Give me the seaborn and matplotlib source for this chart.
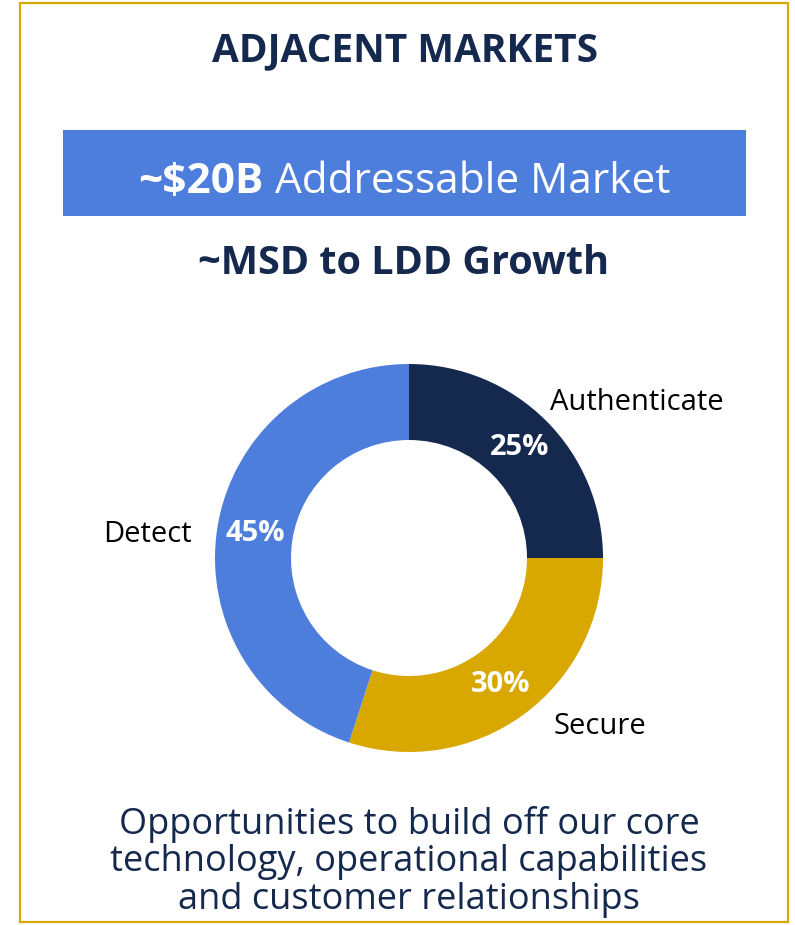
import matplotlib
matplotlib.use("Agg")
import matplotlib.pyplot as plt
import seaborn as sns
import numpy as np
from matplotlib.patches import Rectangle

# data
segments = ["Authenticate", "Secure", "Detect"]
shares = [25, 30, 45]
seg_colors = ["#15294F", "#D9A800", "#4E7EDC"]

title = "ADJACENT MARKETS"
banner_bold = "~$20B"
banner_rest = " Addressable Market"
subtitle = "~MSD to LDD Growth"
footer = "Opportunities to build off our core\ntechnology, operational capabilities\nand customer relationships"

NAVY = "#15294F"
GOLD = "#D9A800"
BLUE = "#4E7EDC"

sns.set_theme(style="white")
plt.rcParams["font.family"] = ["Open Sans", "DejaVu Sans"]

W, H = 795, 925
fig = plt.figure(figsize=(W / 100, H / 100), dpi=100)

def fx(px):
    return px / W

def fy(py):
    # py measured from top
    return 1 - py / H

# card border
fig.patches.append(Rectangle((fx(20), fy(922)), fx(788) - fx(20), fy(3) - fy(922),
                             transform=fig.transFigure, fill=False,
                             edgecolor=GOLD, linewidth=1.6))

# title
fig.text(fx(405), fy(51), title, ha="center", va="center",
         fontsize=28, fontweight="bold", color=NAVY)

# banner
fig.patches.append(Rectangle((fx(63), fy(216)), fx(746) - fx(63), fy(130) - fy(216),
                             transform=fig.transFigure, facecolor=BLUE,
                             edgecolor="none"))
t1 = fig.text(0, fy(182), banner_bold, ha="left", va="center",
              fontsize=30.5, fontweight="bold", color="white")
t2 = fig.text(0, fy(182), banner_rest, ha="left", va="center",
              fontsize=30.5, color="white")
fig.canvas.draw()
r = fig.canvas.get_renderer()
w1 = t1.get_window_extent(r).width
w2 = t2.get_window_extent(r).width
start = 404 - (w1 + w2) / 2
t1.set_x(fx(start))
t2.set_x(fx(start + w1))

# subtitle
fig.text(fx(404), fy(263), subtitle, ha="center", va="center",
         fontsize=28.5, fontweight="bold", color=NAVY)

# donut: centre at (409, 558) px, outer radius 194 px
R = 194.0
cx, cy = 409, 558
ax = fig.add_axes([0, 0, 1, 1])
wedges, _ = ax.pie(shares, colors=seg_colors, startangle=90, counterclock=False,
                   radius=1, wedgeprops=dict(width=76 / R, edgecolor="none"))
ax.set_xlim(-cx / R, (W - cx) / R)
ax.set_ylim(-(H - cy) / R, cy / R)
ax.set_aspect("auto")
ax.axis("off")

# percent labels in the middle of the ring
mid_r = 1 - 38 / R
ang = 90.0
for s in shares:
    a = np.deg2rad(ang - s * 3.6 / 2)
    ax.text(mid_r * np.cos(a), mid_r * np.sin(a), f"{s}%", ha="center", va="center",
            fontsize=21, fontweight="bold", color="white")
    ang -= s * 3.6

# category labels
ax.text((550 - cx) / R, (cy - 403) / R, segments[0], ha="left", va="center",
        fontsize=21, color="black")
ax.text((553 - cx) / R, (cy - 727) / R, segments[1], ha="left", va="center",
        fontsize=21, color="black")
ax.text((192 - cx) / R, (cy - 534) / R, segments[2], ha="right", va="center",
        fontsize=21, color="black")

# footer
fig.text(fx(409), fy(862), footer, ha="center", va="center",
         fontsize=26, color=NAVY, linespacing=1.04)

fig.savefig("out.png", dpi=100)
